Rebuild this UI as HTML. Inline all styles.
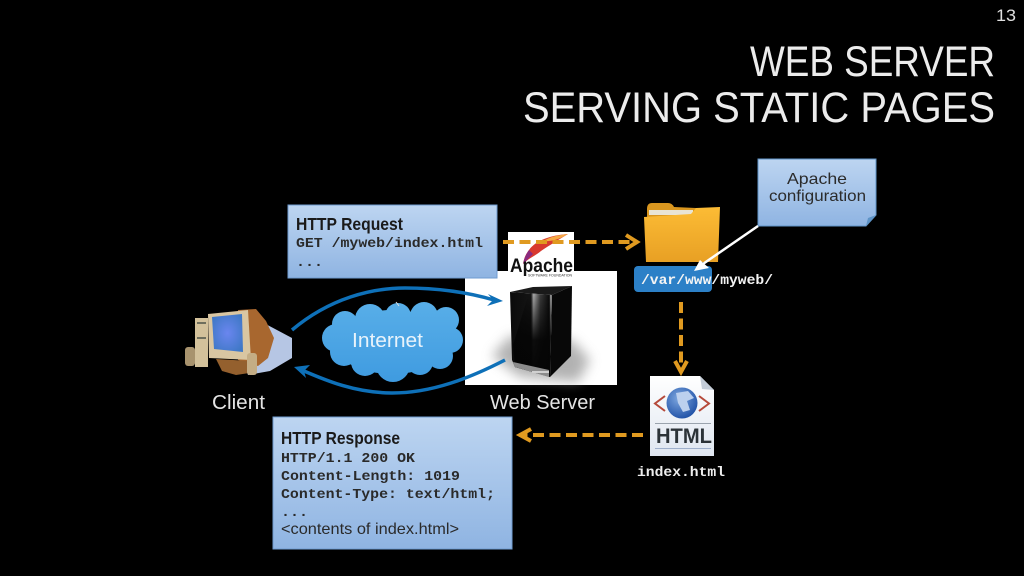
<!DOCTYPE html>
<html>
<head>
<meta charset="utf-8">
<style>
html,body{margin:0;padding:0;background:#000;width:1024px;height:576px;overflow:hidden}
svg{display:block;filter:blur(.35px)}
.s{font-family:"Liberation Sans",sans-serif}
.m{font-family:"Liberation Mono",monospace;font-weight:bold}
</style>
</head>
<body>
<svg width="1024" height="576" viewBox="0 0 1024 576" xmlns="http://www.w3.org/2000/svg">
<defs>
<linearGradient id="box" x1="0" y1="0" x2="0" y2="1"><stop offset="0" stop-color="#bdd5f1"/><stop offset="1" stop-color="#8fb4e2"/></linearGradient>
<linearGradient id="folder" x1="0" y1="0" x2="0" y2="1"><stop offset="0" stop-color="#fcbc35"/><stop offset="1" stop-color="#e8a024"/></linearGradient>
<linearGradient id="cloud" gradientUnits="userSpaceOnUse" x1="0" y1="303" x2="0" y2="382"><stop offset="0" stop-color="#58aee8"/><stop offset="1" stop-color="#3f9be0"/></linearGradient>
<linearGradient id="front" gradientUnits="userSpaceOnUse" x1="510" y1="0" x2="552" y2="0"><stop offset="0" stop-color="#0a0a0a"/><stop offset=".5" stop-color="#141414"/><stop offset=".56" stop-color="#a8a8a8"/><stop offset=".72" stop-color="#3a3a3a"/><stop offset=".94" stop-color="#0a0a0a"/><stop offset=".96" stop-color="#9a9a9a"/><stop offset="1" stop-color="#777"/></linearGradient>
<linearGradient id="fade" x1="0" y1="0" x2="0" y2="1"><stop offset="0" stop-color="#000" stop-opacity="0"/><stop offset=".55" stop-color="#050505" stop-opacity=".95"/><stop offset="1" stop-color="#050505"/></linearGradient>
<linearGradient id="page" x1="0" y1="0" x2="0" y2="1"><stop offset="0" stop-color="#fff"/><stop offset="1" stop-color="#dfe6f0"/></linearGradient>
<radialGradient id="globe" cx=".4" cy=".35" r=".7"><stop offset="0" stop-color="#7fa8e0"/><stop offset="1" stop-color="#1d4fa5"/></radialGradient>
<radialGradient id="screen" cx=".5" cy=".5" r=".6"><stop offset="0" stop-color="#6a86ef"/><stop offset="1" stop-color="#3f78c6"/></radialGradient>
<filter id="soft" x="-30%" y="-30%" width="160%" height="160%"><feGaussianBlur stdDeviation="6"/></filter>
</defs>

<!-- page number and title -->
<text x="996" y="21" class="s" font-size="17" fill="#e0e0e0" textLength="20" lengthAdjust="spacingAndGlyphs">13</text>
<text x="750" y="76" class="s" font-size="43" fill="#ececec" textLength="245" lengthAdjust="spacingAndGlyphs">WEB SERVER</text>
<text x="523" y="122" class="s" font-size="43" fill="#ececec" textLength="472" lengthAdjust="spacingAndGlyphs">SERVING STATIC PAGES</text>

<!-- Server -->
<rect x="465" y="271" width="152" height="114" fill="#fff"/>
<path d="M510 336L492 356L520 377L578 382L590 360L572 340Z" fill="#999" filter="url(#soft)" opacity=".75"/>
<path d="M510 292L533 287L572 286L552 295Z" fill="#1a1a1a"/>
<path d="M552 295L572 286L571 356L550 377Z" fill="#080808"/>
<path d="M510 292L552 295L550 377L515 367L512 360Z" fill="url(#front)"/>
<path d="M528 296L552 295L550 377L515 367L513 345Z" fill="url(#fade)"/>
<path d="M513 362L549 370L549 377L515 367Z" fill="#8c8c8c"/>
<rect x="532" y="371" width="17" height="2" fill="#d0d0d0"/>

<!-- HTTP request box -->
<rect x="288" y="205" width="209" height="73" fill="url(#box)" stroke="#6f9bd0" stroke-width="1"/>
<text x="296" y="230" class="s" font-size="17.5" font-weight="bold" fill="#1a1a1a" textLength="107" lengthAdjust="spacingAndGlyphs">HTTP Request</text>
<text x="296" y="247" class="m" font-size="13.5" fill="#2a2a2a" textLength="187" lengthAdjust="spacingAndGlyphs">GET /myweb/index.html</text>
<text x="296" y="266" class="m" font-size="13.5" fill="#2a2a2a" textLength="27" lengthAdjust="spacingAndGlyphs">...</text>

<!-- Apache logo -->
<rect x="508" y="232" width="66" height="45" fill="#fff"/>
<path d="M568 234C552 235 536 240 529 250C525 255 524 259 523 264C529 258 535 256 541 251C550 245 558 240 568 234Z" fill="#d8392f"/>
<path d="M568 234C558 235 550 237 543 241C551 242 560 239 568 234Z" fill="#f5a945"/>
<path d="M529 250C526 254 524 259 523 264L533 254Z" fill="#8a2a7f"/>
<text x="510" y="272" class="s" font-size="19.5" font-weight="bold" fill="#111" textLength="63" lengthAdjust="spacingAndGlyphs">Apache</text>
<text x="528" y="276.500" class="s" font-size="3.500" fill="#333" textLength="44" lengthAdjust="spacingAndGlyphs">SOFTWARE FOUNDATION</text>

<!-- Client computer -->
<path d="M260 321L292 338L292 358L270 371L248 375L236 340Z" fill="#b6c6e4"/>
<path d="M238 310L256 309L266 321L274 338L268 358L258 366L238 360Z" fill="#a8672f"/>
<rect x="195" y="318" width="13" height="49" fill="#d3c19b"/>
<rect x="197" y="322" width="9" height="2" fill="#6e6e5d"/>
<rect x="197" y="337" width="9" height="2" fill="#6e6e5d"/>
<path d="M208 314L248 310L251 360L209 358Z" fill="#d9c6a2"/>
<path d="M212 317L242 314L243 352L214 349Z" fill="url(#screen)"/>
<path d="M216 359L250 361L256 372L236 375L222 371Z" fill="#94602e"/>
<rect x="185" y="347" width="10" height="19" rx="3" fill="#a8936e"/>
<rect x="247" y="353" width="10" height="22" rx="3" fill="#c4ad85"/>

<!-- Internet cloud -->
<g fill="url(#cloud)">
<ellipse cx="392" cy="342" rx="58" ry="32"/>
<circle cx="345" cy="324" r="13"/><circle cx="370" cy="319" r="15"/><circle cx="398" cy="316" r="13"/>
<circle cx="424" cy="316" r="14"/><circle cx="446" cy="320" r="13"/><circle cx="450" cy="340" r="13"/>
<circle cx="440" cy="356" r="13"/><circle cx="420" cy="362" r="13"/><circle cx="393" cy="365" r="17"/>
<circle cx="365" cy="362" r="14"/><circle cx="344" cy="352" r="14"/><circle cx="336" cy="338" r="14"/>
</g>
<text x="352" y="347" class="s" font-size="20" fill="#e8f3fb" textLength="71" lengthAdjust="spacingAndGlyphs">Internet</text>
<path d="M396 302l3 4" stroke="#ddd" stroke-width="1"/>

<!-- Blue arcs -->
<path d="M292 330C330 298 372 288 405 288C440 288 470 293 494 300" fill="none" stroke="#0e70b8" stroke-width="3.500"/>
<path d="M503 301L488 294L493 300L487 306Z" fill="#0e70b8"/>
<path d="M505 360C470 378 432 393 392 393C355 393 325 380 304 371" fill="none" stroke="#0e70b8" stroke-width="3.500"/>
<path d="M294 367L310 365L304 371L306 378Z" fill="#0e70b8"/>

<!-- Folder -->
<path d="M647 209Q647 203 652 203L668 203Q672 203 674 207L696 208L696 230L647 230Z" fill="#d9961f"/>
<rect x="649" y="210" width="44" height="5" fill="#e9e4d4"/>
<path d="M644 217L691 214L696 208L720 207L718 262L646 262Z" fill="url(#folder)"/>

<!-- Path label -->
<rect x="634" y="266" width="78" height="26" rx="4" fill="#2c80c7"/>
<text x="641" y="284" class="m" font-size="13.5" fill="#f4f4f4" textLength="132" lengthAdjust="spacingAndGlyphs">/var/www/myweb/</text>

<!-- Config note -->
<path d="M758 159L876 159L876 215L866 226L758 226Z" fill="url(#box)" stroke="#5f94c8" stroke-width="1"/>
<path d="M866 226L868 218L876 215Z" fill="#5d93c6"/>
<text x="787" y="184" class="s" font-size="16" fill="#2b2b2b" textLength="60" lengthAdjust="spacingAndGlyphs">Apache</text>
<text x="769" y="201" class="s" font-size="16" fill="#2b2b2b" textLength="97" lengthAdjust="spacingAndGlyphs">configuration</text>
<path d="M758 226L700 266" stroke="#fff" stroke-width="2.500" fill="none"/>
<path d="M694 271L709 268L700 260Z" fill="#fff"/>

<!-- Orange dashed arrows -->
<path d="M503 242L632 242" stroke="#e09a20" stroke-width="4" stroke-dasharray="11 5.500" fill="none"/>
<path d="M626 235L637 242L626 249" stroke="#e09a20" stroke-width="4" fill="none"/>
<path d="M681 302L681 364" stroke="#e09a20" stroke-width="4" stroke-dasharray="11 5.500" fill="none"/>
<path d="M675 361L681 372L687 361" stroke="#e09a20" stroke-width="4" fill="none"/>
<path d="M643 435L524 435" stroke="#e09a20" stroke-width="4" stroke-dasharray="11 5.500" fill="none"/>
<path d="M531 429L520 435L531 441" stroke="#e09a20" stroke-width="4" fill="none"/>

<!-- HTML icon -->
<path d="M650 376L700 376L714 390L714 456L650 456Z" fill="url(#page)"/>
<path d="M700 376L702 389L714 390Z" fill="#c3ccd8"/>
<circle cx="682" cy="403" r="15.500" fill="url(#globe)"/>
<path d="M676 393L688 391L694 398L687 401L690 410L683 412L678 403Z" fill="#bcd0ee"/>
<path d="M665 396L655 403.500L665 411M699 396L709 403.500L699 411" fill="none" stroke="#b64a3b" stroke-width="2"/>
<rect x="655" y="423" width="56" height="1" fill="#9aa3ad"/>
<rect x="655" y="448" width="56" height="1" fill="#9fb0cc"/>
<text x="656" y="443" class="s" font-size="21" font-weight="bold" fill="#2c3338" textLength="56" lengthAdjust="spacingAndGlyphs">HTML</text>
<text x="637" y="476" class="m" font-size="13.5" fill="#eee" textLength="88" lengthAdjust="spacingAndGlyphs">index.html</text>

<!-- Labels -->
<text x="212" y="409" class="s" font-size="20" fill="#e4e4e4" textLength="53" lengthAdjust="spacingAndGlyphs">Client</text>
<text x="490" y="409" class="s" font-size="20" fill="#e4e4e4" textLength="105" lengthAdjust="spacingAndGlyphs">Web Server</text>

<!-- HTTP response box -->
<rect x="273" y="417" width="239" height="132" fill="url(#box)" stroke="#6f9bd0" stroke-width="1"/>
<text x="281" y="444" class="s" font-size="17.5" font-weight="bold" fill="#1a1a1a" textLength="119" lengthAdjust="spacingAndGlyphs">HTTP Response</text>
<text x="281" y="462" class="m" font-size="13.5" fill="#2a2a2a" textLength="134" lengthAdjust="spacingAndGlyphs">HTTP/1.1 200 OK</text>
<text x="281" y="480" class="m" font-size="13.5" fill="#2a2a2a" textLength="179" lengthAdjust="spacingAndGlyphs">Content-Length: 1019</text>
<text x="281" y="498" class="m" font-size="13.5" fill="#2a2a2a" textLength="214" lengthAdjust="spacingAndGlyphs">Content-Type: text/html;</text>
<text x="281" y="516" class="m" font-size="13.5" fill="#2a2a2a" textLength="27" lengthAdjust="spacingAndGlyphs">...</text>
<text x="281" y="534" class="s" font-size="16" fill="#2a2a2a" textLength="178" lengthAdjust="spacingAndGlyphs">&lt;contents of index.html&gt;</text>
</svg>
</body>
</html>
